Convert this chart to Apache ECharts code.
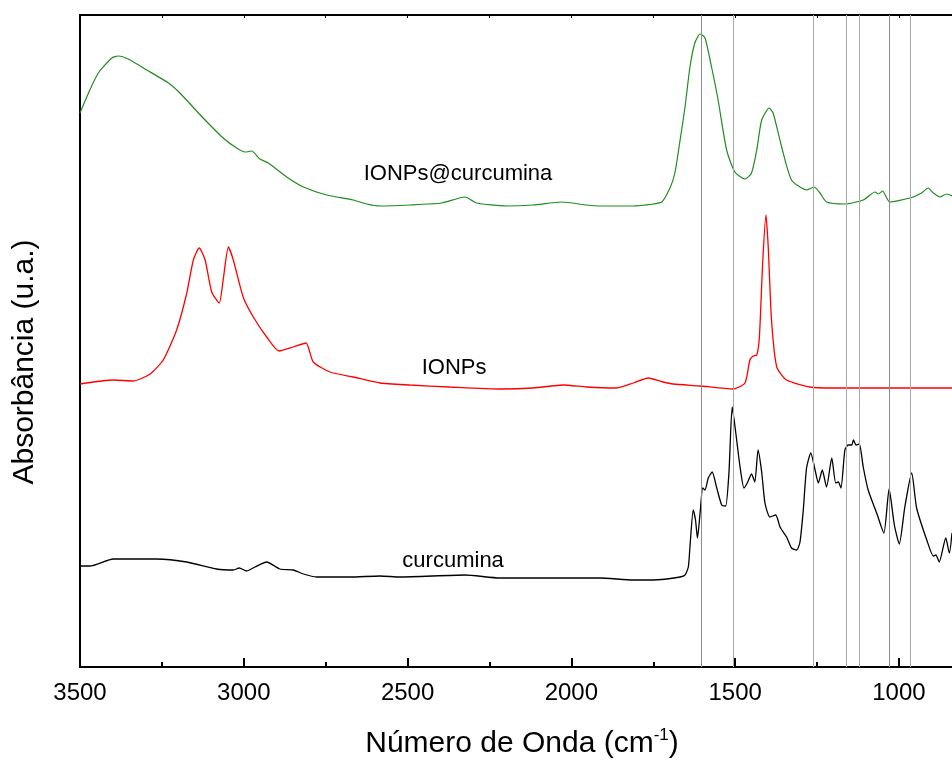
<!DOCTYPE html>
<html><head><meta charset="utf-8">
<script src="https://cdn.jsdelivr.net/npm/echarts@6/dist/echarts.min.js"></script>
<style>html,body{margin:0;padding:0;background:#fff}#c{width:952px;height:761px}</style>
</head><body><div id="c"></div>
<script>
// Wavenumber axis (cm^-1), reversed; right edge of the visible window is ~838 cm^-1
const xMin = 838, xMax = 3500;
const majorTicks = [1000, 1500, 2000, 2500, 3000, 3500];
const minorTicks = [1250, 1750, 2250, 2750, 3250];

// [wavenumber, absorbance (a.u., offset stacked)]
const ionpsCurcumina = [[3500,554],[3470,577],[3444,594],[3403,609],[3383,611],[3353,608],[3296,597],[3230,584],[3195,574],[3124,549],[3063,529],[3022,519],[2996,515],[2976,516],[2951,508],[2925,504],[2869,490],[2818,480],[2747,472],[2666,467],[2625,463],[2584,461],[2493,462],[2396,464],[2325,470],[2289,464],[2198,461],[2117,462],[2030,465],[1953,462],[1913,461],[1811,461],[1750,463],[1724,465],[1699,479],[1684,494],[1668,527],[1653,560],[1638,600],[1623,624],[1607,633],[1592,629],[1572,600],[1552,567],[1526,517],[1501,495],[1470,488],[1450,494],[1434,517],[1419,547],[1396,559],[1384,554],[1358,520],[1328,487],[1282,477],[1259,480],[1241,474],[1221,465],[1165,463],[1109,467],[1073,475],[1063,473],[1050,476],[1028,465],[966,469],[931,474],[911,479],[895,474],[875,470],[854,473],[838,471]];

const ionps = [[3500,283],[3398,287],[3337,286],[3286,293],[3246,307],[3205,337],[3174,374],[3154,407],[3136,419],[3118,407],[3098,375],[3075,364],[3063,387],[3047,420],[3032,407],[3002,370],[2971,350],[2930,330],[2892,316],[2849,320],[2810,324],[2788,305],[2737,295],[2666,290],[2584,284],[2493,282],[2371,280],[2218,278],[2117,279],[2025,282],[1953,280],[1862,279],[1811,284],[1765,289],[1720,285],[1689,283],[1607,281],[1506,278],[1470,284],[1455,307],[1445,311],[1434,312],[1426,330],[1416,404],[1406,452],[1399,420],[1389,347],[1373,300],[1343,287],[1272,280],[1200,279],[1000,279],[838,279]];

const curcumina = [[3500,101],[3470,101],[3398,108],[3266,108],[3174,105],[3083,98],[3032,97],[3014,99],[2991,96],[2966,100],[2930,105],[2890,98],[2849,97],[2818,93],[2778,90],[2676,90],[2584,91],[2523,90],[2325,92],[2218,89],[2035,89],[1913,89],[1811,87],[1760,87],[1709,88],[1668,90],[1653,92],[1643,100],[1638,120],[1628,157],[1621,147],[1615,129],[1607,154],[1599,179],[1592,177],[1582,189],[1570,195],[1557,180],[1541,162],[1529,161],[1519,194],[1509,260],[1498,234],[1485,200],[1473,179],[1463,184],[1450,193],[1440,185],[1430,217],[1419,195],[1409,164],[1394,150],[1376,152],[1363,140],[1343,130],[1328,119],[1312,117],[1302,125],[1292,157],[1282,199],[1269,214],[1256,197],[1246,184],[1234,197],[1221,180],[1205,209],[1193,184],[1185,185],[1177,179],[1165,217],[1155,222],[1144,222],[1139,227],[1131,222],[1121,223],[1109,200],[1094,177],[1068,154],[1046,134],[1030,178],[1014,142],[999,123],[982,160],[961,194],[946,159],[915,127],[895,111],[887,112],[877,105],[857,129],[846,114],[838,134]];

// Reference band positions (cm^-1)
const bandLines = [1604, 1506, 1262, 1162, 1122, 1030, 966];
const bandShades = ['#8c8c8c', '#aaaaaa', '#aaaaaa', '#aaaaaa', '#aaaaaa', '#8c8c8c', '#aaaaaa'];

const seriesNames = ['IONPs@curcumina', 'IONPs', 'curcumina'];
const nameAnchors = [[2346, 493], [2358, 299], [2361, 106]];

const FONT = "'Liberation Sans', Arial, sans-serif";
const chart = echarts.init(document.getElementById('c'), null, {renderer: 'canvas'});

function nameMark(i) {
  return {
    silent: true, symbol: 'circle', symbolSize: 0,
    label: {show: true, position: 'inside', formatter: seriesNames[i], color: '#000', fontSize: 22, fontFamily: FONT},
    data: [{coord: nameAnchors[i]}]
  };
}

const baseX = {type: 'value', min: xMin, max: xMax, inverse: true, splitLine: {show: false}};

chart.setOption({
  animation: false,
  backgroundColor: '#fff',
  grid: {left: 80, top: 15, bottom: 94, right: 0},
  xAxis: [Object.assign({}, baseX, {
    position: 'bottom',
    axisLine: {show: true, onZero: false, lineStyle: {color: '#000', width: 2}},
    axisTick: {show: true, inside: true, length: 9, customValues: majorTicks, lineStyle: {color: '#000', width: 2}},
    axisLabel: {color: '#000', fontSize: 24, fontFamily: FONT, margin: 14, customValues: majorTicks, formatter: v => String(v)}
  }), Object.assign({}, baseX, {
    position: 'bottom',
    axisLine: {show: false, onZero: false},
    axisTick: {show: true, inside: true, length: 5, customValues: minorTicks, lineStyle: {color: '#000', width: 2}},
    axisLabel: {show: false}
  }), Object.assign({}, baseX, {
    position: 'top',
    axisLine: {show: true, onZero: false, lineStyle: {color: '#000', width: 2}},
    axisTick: {show: true, inside: true, length: 3, customValues: majorTicks.concat(minorTicks), lineStyle: {color: '#000', width: 1}},
    axisLabel: {show: false}
  })],
  yAxis: {
    type: 'value', min: 0, max: 652,
    axisLine: {show: true, lineStyle: {color: '#000', width: 2}},
    axisTick: {show: false}, axisLabel: {show: false}, splitLine: {show: false}
  },
  graphic: [{
    type: 'text', x: 25, y: 362, rotation: Math.PI / 2,
    style: {text: 'Absorbância (u.a.)', fill: '#000', font: "30px " + FONT, textAlign: 'center', textVerticalAlign: 'middle'}
  }, {
    type: 'text', x: 522, y: 744,
    style: {
      text: '{a|Número de Onda (cm}{s|-1}{a|)}', textAlign: 'center', textVerticalAlign: 'middle',
      rich: {
        a: {fontSize: 30, fontFamily: FONT, fill: '#000', color: '#000', lineHeight: 34},
        s: {fontSize: 17, fontFamily: FONT, fill: '#000', color: '#000', verticalAlign: 'top', lineHeight: 34, padding: [0, 0, 14, 0]}
      }
    }
  }],
  series: [{
    name: seriesNames[0], type: 'line', data: ionpsCurcumina, showSymbol: false, smooth: 0.2,
    lineStyle: {color: '#1e8c1e', width: 1.2}, itemStyle: {color: '#1e8c1e'},
    markPoint: nameMark(0)
  }, {
    name: seriesNames[1], type: 'line', data: ionps, showSymbol: false, smooth: 0.2,
    lineStyle: {color: '#ff0000', width: 1.3}, itemStyle: {color: '#ff0000'},
    markPoint: nameMark(1)
  }, {
    name: seriesNames[2], type: 'line', data: curcumina, showSymbol: false, smooth: 0.2,
    lineStyle: {color: '#000', width: 1.3}, itemStyle: {color: '#000'},
    markPoint: nameMark(2),
    markLine: {
      silent: true, symbol: ['none', 'none'], label: {show: false},
      lineStyle: {type: 'solid', width: 1},
      data: bandLines.map((w, i) => ({xAxis: w, lineStyle: {color: bandShades[i], type: 'solid', width: 1}}))
    }
  }]
});
</script>
</body></html>
